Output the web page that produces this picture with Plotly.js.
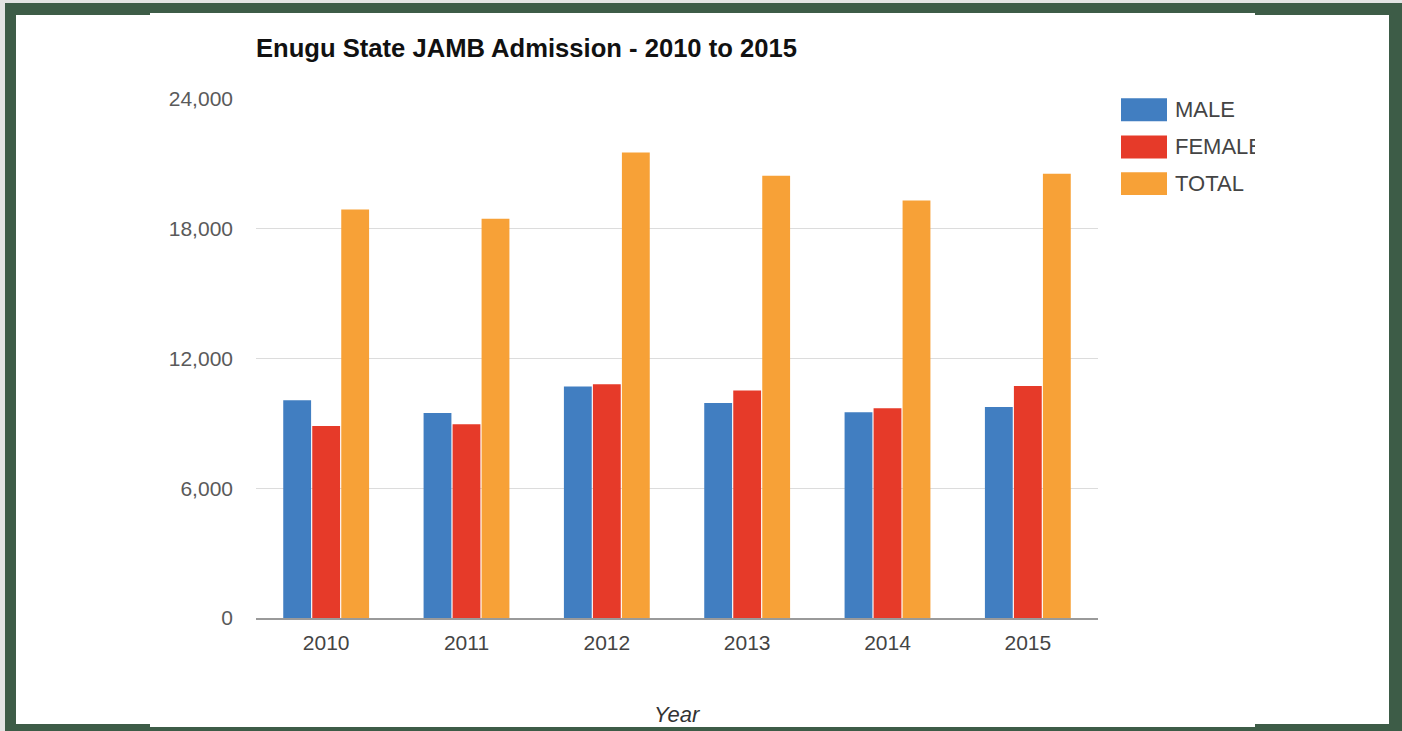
<!DOCTYPE html>
<html>
<head>
<meta charset="utf-8">
<script src="https://cdn.plot.ly/plotly-3.0.1.min.js"></script>
<style>
  html, body { margin: 0; padding: 0; width: 1402px; height: 731px; overflow: hidden; background: #e3e4e3; }
  #frame { position: absolute; left: 5px; top: 3px; width: 1397px; height: 728px; background: #3d5c47; }
  #inner { position: absolute; left: 16px; top: 15px; width: 1373px; height: 709px; background: #ffffff; }
  #card { position: absolute; left: 150px; top: 13px; width: 1105px; height: 714px; background: #ffffff; }
  #chart { position: absolute; left: 150px; top: 14px; width: 1105px; height: 713px; overflow: hidden; }
</style>
</head>
<body>
<div id="frame"></div>
<div id="inner"></div>
<div id="card"></div>
<div id="chart"></div>
<script>
const years = ['2010', '2011', '2012', '2013', '2014', '2015'];
const male = [10070, 9480, 10700, 9945, 9515, 9760];
const female = [8880, 8960, 10810, 10515, 9700, 10730];
const total = [18890, 18460, 21525, 20450, 19310, 20540];
const seriesNames = ['MALE', 'FEMALE', 'TOTAL'];
const seriesColors = ['#417ec1', '#e63a29', '#f7a137'];
const yTicks = [0, 6000, 12000, 18000, 24000];

const W = 1105, H = 713;
const margin = { l: 106, r: 157, t: 84.5, b: 109 };
const font = 'Arial, "Liberation Sans", sans-serif';

const seriesData = [male, female, total];
const traces = seriesData.map((vals, i) => ({
  type: 'bar',
  name: seriesNames[i],
  x: years,
  y: vals,
  marker: { color: seriesColors[i] },
  hoverinfo: 'x+y+name'
}));

// custom legend (swatches + labels) and axis title, positioned in pixels of the chart div
const shapes = [];
const annotations = [];
const legX0 = 1121 - 150, swW = 46, swH = 23;
const legTops = [97.7 - 14, 135 - 14, 171.7 - 14];
const pw = W - margin.l - margin.r, ph = H - margin.t - margin.b;
seriesNames.forEach((n, i) => {
  shapes.push({
    type: 'rect', xref: 'paper', yref: 'paper',
    x0: (legX0 - margin.l) / pw,
    x1: (legX0 + swW - margin.l) / pw,
    y0: (H - margin.b - (legTops[i] + swH)) / ph,
    y1: (H - margin.b - legTops[i]) / ph,
    fillcolor: seriesColors[i], line: { width: 0 }
  });
  annotations.push({
    xref: 'paper', yref: 'paper',
    x: (legX0 + swW + 6 - margin.l) / pw,
    y: (H - margin.b - (legTops[i] + swH / 2)) / ph,
    xanchor: 'left', yanchor: 'middle', showarrow: false,
    text: n, font: { family: font, size: 22, color: '#444444' }
  });
});
annotations.push({
  xref: 'paper', yref: 'paper',
  x: 0.5, y: (H - margin.b - (715 - 14)) / ph,
  xanchor: 'center', yanchor: 'middle', showarrow: false,
  text: '<i>Year</i>', font: { family: font, size: 22, color: '#333333' }
});

const layout = {
  width: W, height: H,
  margin: margin,
  paper_bgcolor: 'rgba(0,0,0,0)',
  plot_bgcolor: 'rgba(0,0,0,0)',
  showlegend: false,
  barmode: 'group',
  bargap: 0.38,
  bargroupgap: 0.04,
  title: {
    text: '<b>Enugu State JAMB Admission - 2010 to 2015</b>',
    xref: 'container', yref: 'container',
    x: (256 - 150) / W, xanchor: 'left',
    y: 1 - (48 - 14) / H, yanchor: 'middle',
    font: { family: font, size: 25.6, color: '#111111' }
  },
  xaxis: {
    type: 'category',
    showgrid: false,
    showline: true, linecolor: '#9a9a9a', linewidth: 1.5,
    ticks: '', ticklabelstandoff: 5,
    tickfont: { family: font, size: 21, color: '#444444' }
  },
  yaxis: {
    range: [0, 24000],
    tickvals: yTicks,
    tickformat: ',d',
    showgrid: true, gridcolor: '#dcdcdc', gridwidth: 1.2,
    zeroline: false, showline: false,
    ticks: '', ticklabelstandoff: 22,
    tickfont: { family: font, size: 21, color: '#5a5a5a' }
  },
  shapes: shapes,
  annotations: annotations
};

Plotly.newPlot('chart', traces, layout, { displayModeBar: false, staticPlot: true });
</script>
</body>
</html>
